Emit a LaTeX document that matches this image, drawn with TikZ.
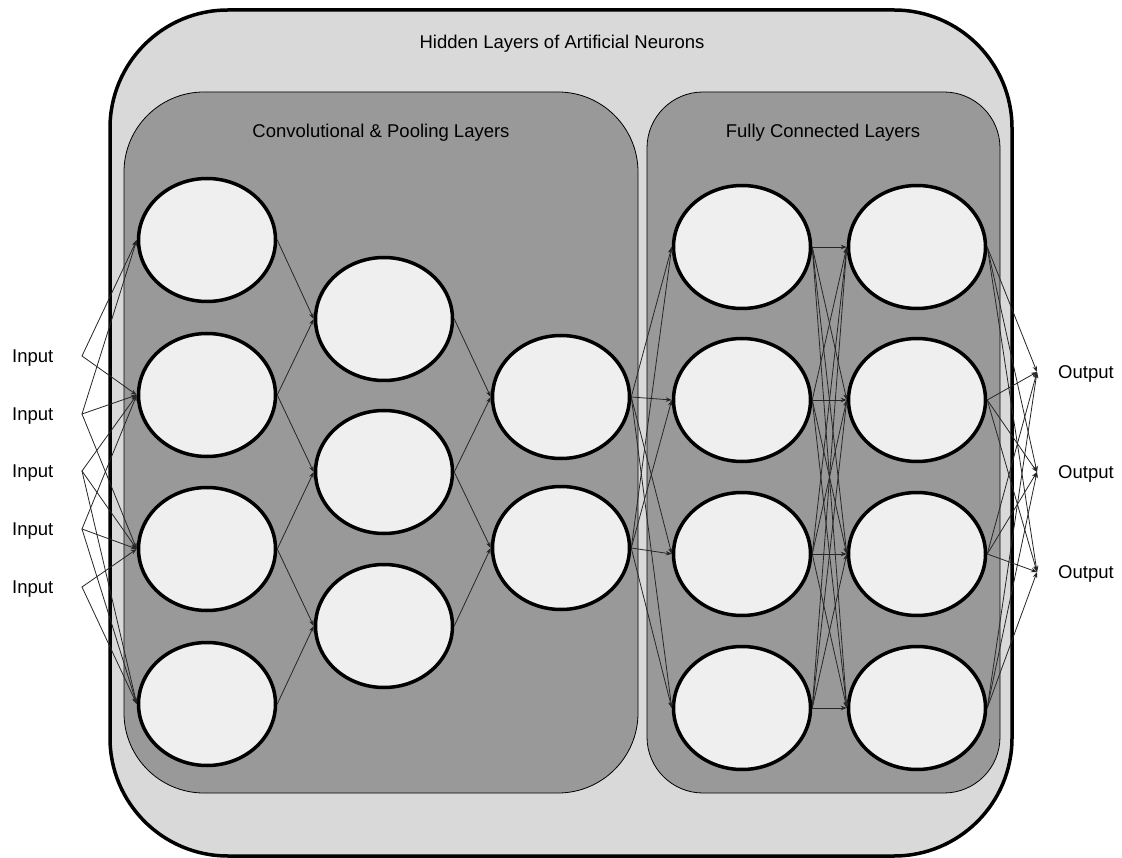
\documentclass[tikz,border=0pt]{standalone}
\usepackage{fontspec}
\setmainfont{Liberation Sans}
\usetikzlibrary{arrows.meta, shapes.geometric}

\definecolor{outerfill}{HTML}{D9D9D9}
\definecolor{panelfill}{HTML}{999999}
\definecolor{neuronfill}{HTML}{EFEFEF}

\begin{document}
\begin{tikzpicture}[x=1pt, y=-1pt, >={Stealth[length=6pt,width=4.5pt]}, line cap=round,
	neuron/.style={ellipse, draw, line width=3.5pt, fill=neuronfill,
		minimum width=137pt, minimum height=123pt, inner sep=0pt},
	link/.style={->, line width=0.8pt, draw=black!85},
	caption/.style={font=\fontsize{18.5}{22}\selectfont, inner sep=0pt}]
	% -------- Tunables --------
	\def\xA{207}   % column of the first layer
	\def\xB{384}   % pooling column
	\def\xC{561}   % last conv column
	\def\xD{742}   % first fully connected column
	\def\xE{917}   % second fully connected column
	
	% Page and frame
	\useasboundingbox (0,0) rectangle (1122,858);
	\fill[white] (0,0) rectangle (1122,858);
	\draw[line width=3.5pt, fill=outerfill, rounded corners=118pt] (110,10) rectangle (1012,856);
	\draw[line width=0.8pt, fill=panelfill, rounded corners=80pt] (124,92) rectangle (638,793);
	\draw[line width=0.8pt, fill=panelfill, rounded corners=56pt] (647,92) rectangle (1000,793);
	
	% Titles
	\node[caption] (tHidden) at (562,44) {Hidden Layers of Artificial Neurons};
	\node[caption] (tConv) at (381,133) {Convolutional \& Pooling Layers};
	\node[caption] (tFull) at (823,133) {Fully Connected Layers};
	
	% -------- Neurons --------
	\foreach \y [count=\j] in {240,395,549,704}
		\node[neuron] (n1-\j) at (\xA,\y) {};
	\foreach \y [count=\j] in {319,472,626}
		\node[neuron] (n2-\j) at (\xB,\y) {};
	\foreach \y [count=\j] in {397,548}
		\node[neuron] (n3-\j) at (\xC,\y) {};
	\foreach \y [count=\j] in {247,400,554,708}{
		\node[neuron] (n4-\j) at (\xD,\y) {};
		\node[neuron] (n5-\j) at (\xE,\y) {};
	}
	
	% -------- Inputs and outputs --------
	\foreach \y [count=\i] in {356,414,471,529,587}{
		\coordinate (in\i) at (82,\y);
		\node[caption, anchor=west] (inlab\i) at (12,\y+2) {Input};
	}
	\foreach \y [count=\i] in {372,472,572}{
		\coordinate (out\i) at (1037,\y);
		\node[caption, anchor=west] (outlab\i) at (1058,\y+2) {Output};
	}
	
	% -------- Connectors --------
	% inputs feed overlapping groups of the first layer
	\foreach \i/\j in {1/1,1/2,2/1,2/2,2/3,3/2,3/3,3/4,4/2,4/3,4/4,5/3,5/4}
		\draw[link] (in\i) -- (n1-\j.west);
	% convolution / pooling: each neuron sees its two neighbours
	\foreach \i/\j in {1/1,2/1,2/2,3/2,3/3,4/3}
		\draw[link] (n1-\i.east) -- (n2-\j.west);
	\foreach \i/\j in {1/1,2/1,2/2,3/2}
		\draw[link] (n2-\i.east) -- (n3-\j.west);
	% fully connected part
	\foreach \i in {1,2}
		\foreach \j in {1,...,4}
			\draw[link] (n3-\i.east) -- (n4-\j.west);
	\foreach \i in {1,...,4}
		\foreach \j in {1,...,4}
			\draw[link] (n4-\i.east) -- (n5-\j.west);
	\foreach \i in {1,...,4}
		\foreach \j in {1,2,3}
			\draw[link] (n5-\i.east) -- (out\j);
	
\end{tikzpicture}
\end{document}
